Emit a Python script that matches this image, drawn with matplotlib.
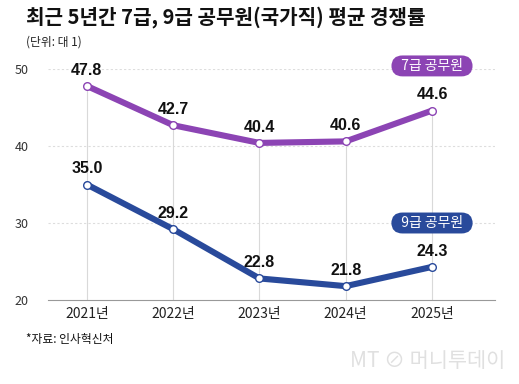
import matplotlib
matplotlib.use("Agg")
import matplotlib.pyplot as plt

plt.rcParams['font.family'] = ['Noto Sans CJK KR', 'DejaVu Sans']

years = ["2021년", "2022년", "2023년", "2024년", "2025년"]
grade7 = [47.8, 42.7, 40.4, 40.6, 44.6]
grade9 = [35.0, 29.2, 22.8, 21.8, 24.3]
yticks = [20, 30, 40, 50]

c7 = "#8C44B4"
c9 = "#294A9B"

fig = plt.figure(figsize=(5.19, 3.84), dpi=100)
ax = fig.add_axes([48/519, 1-300/384, 447/519, 231/384])
x = list(range(len(years)))
ax.set_xlim(-0.45, 4.73)
ax.set_ylim(20, 50)

for yv in yticks[1:]:
    ax.axhline(yv, color="#dddddd", lw=0.8, ls=(0, (2, 2)), zorder=0)
for xi, top in zip(x, grade7):
    ax.vlines(xi, 20, top, color="#d9d9d9", lw=0.8, zorder=0)

for vals, col in [(grade7, c7), (grade9, c9)]:
    ax.plot(x, vals, color=col, lw=4.4, solid_capstyle="round", zorder=3, clip_on=False)
    ax.plot(x, vals, ls="none", marker="o", ms=5.5, mfc="white", mec=col, mew=1.0, zorder=4, clip_on=False)
    for xi, v in zip(x, vals):
        ax.annotate(f"{v:.1f}", (xi, v), xytext=(0, 6), textcoords="offset points",
                    ha="center", va="bottom", fontsize=11.5, fontweight="bold", color="#111111",
                    family=["Liberation Sans", "DejaVu Sans"])

for s in ["top", "right", "left"]:
    ax.spines[s].set_visible(False)
ax.spines["bottom"].set_color("#999999")
ax.spines["bottom"].set_linewidth(0.8)
ax.set_yticks(yticks)
ax.set_yticklabels([str(v) for v in yticks], fontsize=9, color="#333333")
ax.set_xticks(x)
ax.set_xticklabels(years, fontsize=10, color="#222222")
ax.tick_params(length=0, pad=5)
ax.tick_params(axis="y", pad=14)

def badge(xv, yv, text, col):
    ax.text(xv, yv, "  " + text + "  ", ha="center", va="center", fontsize=10, color="white",
            bbox=dict(boxstyle="round,pad=0.25,rounding_size=0.8", fc=col, ec="none"), zorder=6, clip_on=False)

badge(4, 50.4, "7급 공무원", c7)
badge(4, 30.0, "9급 공무원", c9)

fig.text(26/519, 1-17/384, "최근 5년간 7급, 9급 공무원(국가직) 평균 경쟁률", fontsize=14.5, fontweight="bold",
         va="center", ha="left", color="#111111")
fig.text(26/519, 1-42/384, "(단위: 대 1)", fontsize=8.5, va="center", ha="left", color="#222222")
fig.text(26/519, 1-340/384, "*자료: 인사혁신처", fontsize=8.5, fontweight="medium", va="center", ha="left", color="#111111")
fig.text(505/519, 1-361/384, "MT ⊘ 머니투데이", fontsize=15, va="center", ha="right", color="#e0e0e0",
         family=["Noto Sans CJK KR", "DejaVu Sans"])

fig.savefig("out.png", dpi=100)
